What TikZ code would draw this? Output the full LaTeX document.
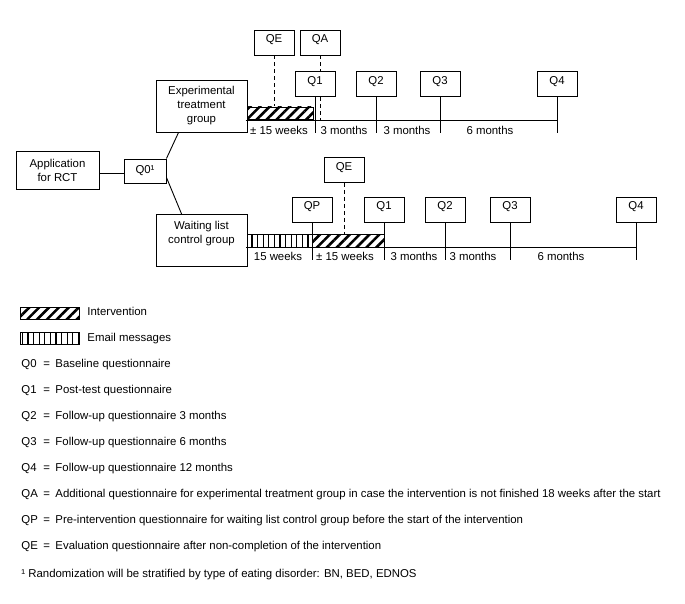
\documentclass[tikz,border=0pt]{standalone}
\usepackage{fontspec}
\setmainfont{Liberation Sans}
\usetikzlibrary{patterns.meta}

\tikzset{
    box/.style={draw, fill=white, inner sep=3pt, align=center},
    qbox/.style={draw, fill=white, minimum width=40pt, minimum height=25pt,
        inner sep=3.5pt, text height=9.5pt, text depth=8.5pt},
    interv/.style={draw, inner sep=0pt,
        pattern={Lines[angle=45, distance=7pt, line width=2.6pt]}},
    email/.style={draw, inner sep=0pt,
        pattern={Lines[angle=90, distance=5.6pt, line width=1.1pt]}},
    period/.style={anchor=base, inner sep=0pt},
    legend/.style={anchor=base west, inner sep=0pt},
    dashline/.style={dash pattern=on 4pt off 3pt}
}

\begin{document}
\begin{tikzpicture}[x=1pt, y=-1pt, line width=0.9pt,
        font=\fontsize{11.4}{14}\selectfont]
    \useasboundingbox (0,0) rectangle (685,604);

    % Coordinates of the tick ends
    \coordinate (lowA) at (0,133);
    \coordinate (lowB) at (0,260);

    % Start
    \node[box, minimum width=83pt, minimum height=38pt] (app) at (57.5,170) {Application\\for RCT};
    \node[box, minimum width=42pt, minimum height=24pt] (q0) at (145,171) {Q0¹};
    \node[box, minimum width=91pt, minimum height=52pt] (exp) at (201.5,106) {Experimental\\treatment\\group};
    \node[box, minimum width=91pt, minimum height=51pt, inner sep=6.5pt, text depth=17pt] (wait) at (201.5,240.5) {Waiting list\\control group};
    \draw ([yshift=-3pt]app.east) -- ([yshift=-2pt]q0.west);
    \draw (q0.north east) -- ([xshift=23pt]exp.south west);
    \draw ([yshift=6pt]q0.south east) -- ([xshift=26pt]wait.north west);

    % Experimental treatment group
    \node[interv, minimum width=66pt, minimum height=12pt] (barA) at (280,113) {};
    \node[qbox] (qeA) at (274,42.5) {QE};
    \node[qbox] (qaA) at (320,42.5) {QA};
    \draw[dashline] (qeA.south) -- (qeA.south |- barA.north);
    \draw[dashline] (qaA.south) -- (qaA.south |- barA.south);
    \node[qbox] (q1A) at (315,84) {Q1};
    \node[qbox] (q2A) at (376,84) {Q2};
    \node[qbox] (q3A) at (440,84) {Q3};
    \node[qbox] (q4A) at (557,84) {Q4};
    \draw (barA.south west) -- (barA.south west -| q4A.south);
    \draw (q1A.south) -- (q1A.south |- lowA);
    \draw (q2A.south) -- (q2A.south |- lowA);
    \draw (q3A.south) -- (q3A.south |- lowA);
    \draw (q4A.south) -- (q4A.south |- lowA);
    \node[period] at (279,135) {± 15 weeks};
    \node[period] at (344,135) {3 months};
    \node[period] at (407,135) {3 months};
    \node[period] at (490,135) {6 months};

    % Waiting list control group
    \node[email, minimum width=65pt, minimum height=13pt] (mailB) at (279.5,240.5) {};
    \node[interv, minimum width=72pt, minimum height=13pt] (barB) at (348,240.5) {};
    \node[qbox] (qpB) at (312,209.5) {QP};
    \node[qbox] (qeB) at (344,170) {QE};
    \node[qbox] (q1B) at (384,209.5) {Q1};
    \node[qbox] (q2B) at (445,209.5) {Q2};
    \node[qbox] (q3B) at (510,209.5) {Q3};
    \node[qbox] (q4B) at (636,209.5) {Q4};
    \draw[dashline] (qeB.south) -- (qeB.south |- barB.north);
    \draw (mailB.south west) -- (mailB.south west -| q4B.south);
    \draw (qpB.south) -- (qpB.south |- lowB);
    \draw (q1B.south) -- (q1B.south |- lowB);
    \draw (q2B.south) -- (q2B.south |- lowB);
    \draw (q3B.south) -- (q3B.south |- lowB);
    \draw (q4B.south) -- (q4B.south |- lowB);
    \node[period] at (278,260) {15 weeks};
    \node[period] at (345,260) {± 15 weeks};
    \node[period] at (414,260) {3 months};
    \node[period] at (473,260) {3 months};
    \node[period] at (561,260) {6 months};

    % Legend
    \node[interv, minimum width=59pt, minimum height=12pt] (legInterv) at (49.5,313) {};
    \node[legend] at (87,315) {Intervention};
    \node[email, minimum width=59pt, minimum height=12pt] (legEmail) at (49.5,338) {};
    \node[legend] at (87,341) {Email messages};
    \foreach \code/\desc [count=\i] in {
        Q0/Baseline questionnaire,
        Q1/Post-test questionnaire,
        Q2/Follow-up questionnaire 3 months,
        Q3/Follow-up questionnaire 6 months,
        Q4/Follow-up questionnaire 12 months,
        QA/Additional questionnaire for experimental treatment group in case the intervention is not finished 18 weeks after the start,
        QP/Pre-intervention questionnaire for waiting list control group before the start of the intervention,
        QE/Evaluation questionnaire after non-completion of the intervention}
    {
        \node[legend] (code\i) at (21,{367+26.1*(\i-1)}) {\code};
        \node[legend] at (43,{367+26.1*(\i-1)}) {=};
        \node[legend] (desc\i) at (55,{367+26.1*(\i-1)}) {\desc};
    }
    \node[legend] (note) at (21,577) {¹ Randomization will be stratified by type of eating disorder: BN, BED, EDNOS};
\end{tikzpicture}
\end{document}
